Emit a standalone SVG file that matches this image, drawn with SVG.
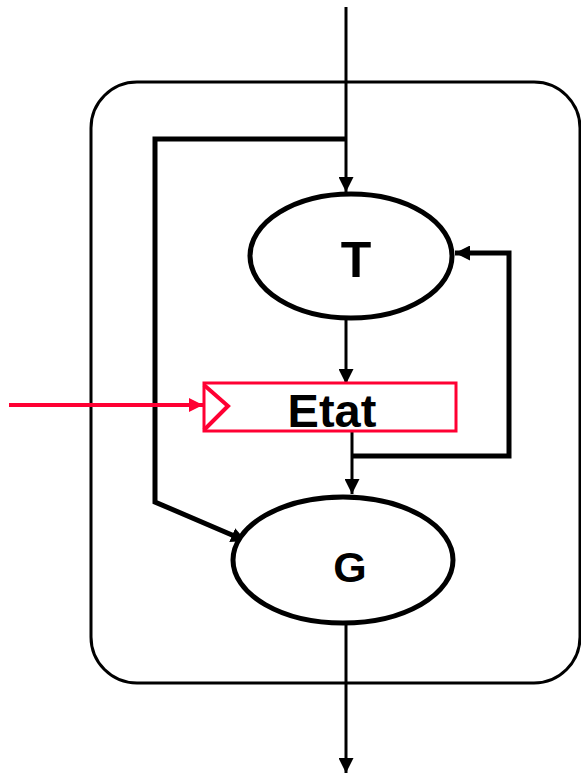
<svg xmlns="http://www.w3.org/2000/svg" width="581" height="774" viewBox="0 0 581 774">
<style>
.ln{fill:none;stroke:#000;stroke-width:3}
.thk{fill:none;stroke:#000;stroke-width:5}
.nd{fill:#fff;stroke:#000;stroke-width:5}
.lb{font-family:"Liberation Sans",Arial,sans-serif;font-weight:bold;fill:#000;text-anchor:middle}
.red{fill:none;stroke:#ff0033;stroke-width:3}
</style>
<defs>
<marker id="ah" viewBox="0 0 10 10" refX="10" refY="5" markerWidth="15" markerHeight="15" markerUnits="userSpaceOnUse" orient="auto"><path d="M0,0L10,5L0,10Z" fill="#000"/></marker>
<marker id="ahr" viewBox="0 0 10 10" refX="10" refY="5" markerWidth="14" markerHeight="14" markerUnits="userSpaceOnUse" orient="auto"><path d="M0,0L10,5L0,10Z" fill="#ff0033"/></marker>
</defs>
<rect id="container" x="91" y="82" width="489" height="601" rx="46" ry="46" class="ln"/>
<g id="connectors">
<path class="ln" d="M346,7V192" marker-end="url(#ah)"/>
<path class="thk" d="M346,139H155V502L246,541" marker-end="url(#ah)"/>
<path class="ln" d="M346,318V384" marker-end="url(#ah)"/>
<path class="ln" d="M352,430V494" marker-end="url(#ah)"/>
<path class="thk" d="M352,456H509V253H455" marker-end="url(#ah)"/>
<path class="ln" d="M346,623V773" marker-end="url(#ah)"/>
<path d="M9,405H203" fill="none" stroke="#ff0033" stroke-width="4" marker-end="url(#ahr)"/>
</g>
<g id="T">
<ellipse cx="351" cy="256" rx="101" ry="62" class="nd"/>
<text x="356" y="277" class="lb" font-size="50">T</text>
</g>
<g id="Etat">
<rect x="204" y="383" width="252" height="48" class="red"/>
<path d="M204,385L228,406L204,430" fill="none" stroke="#ff0033" stroke-width="4"/>
<text x="332" y="427" class="lb" font-size="47">Etat</text>
</g>
<g id="G">
<ellipse cx="343" cy="560" rx="110" ry="63" class="nd"/>
<text x="350" y="582" class="lb" font-size="43">G</text>
</g>
</svg>
